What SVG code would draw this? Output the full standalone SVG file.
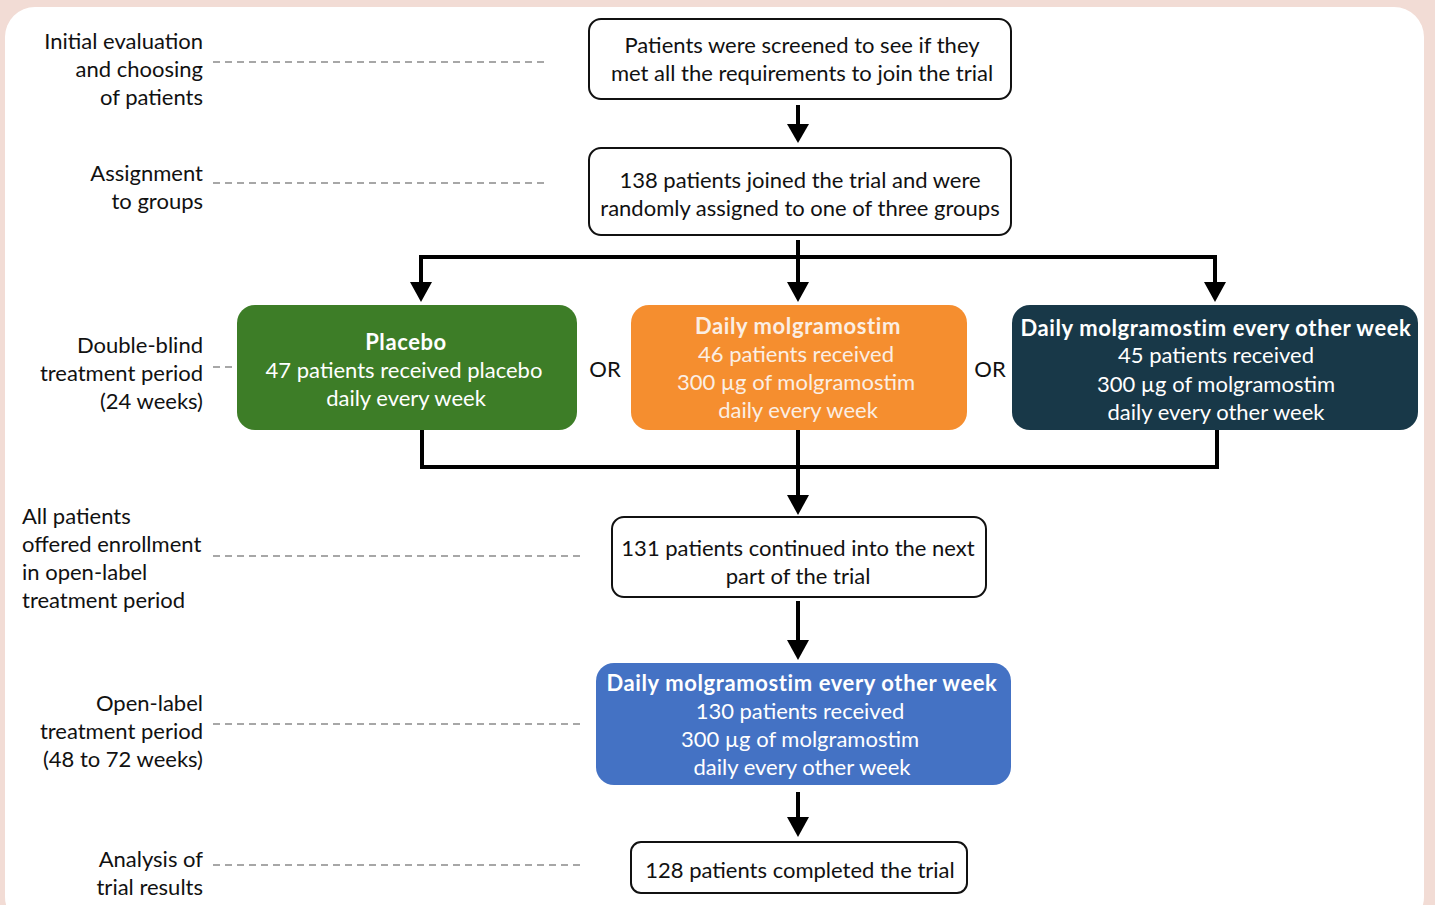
<svg xmlns="http://www.w3.org/2000/svg" width="1435" height="905" viewBox="0 0 1435 905">
<defs>
<style>
text{font-family:Lato,"Noto Sans",sans-serif;font-size:22px;fill:#111}
.c{text-anchor:middle}
.r{text-anchor:end}
.w{fill:#fff}
.o{fill:#fbeee4}
.b{font-weight:bold;letter-spacing:0.6px}
.box{fill:#fff;stroke:#111;stroke-width:2}
.dash{stroke:#8a8a8a;stroke-width:1.5;stroke-dasharray:7 5;fill:none}
.ln{stroke:#000;stroke-width:4;fill:none}
</style>
</defs>
<rect x="0" y="0" width="1435" height="905" fill="#f2dcd5"/>
<rect x="5" y="7" width="1419" height="920" rx="30" fill="#fff"/>

<g id="labels">
<text class="r" x="203" y="49">Initial evaluation</text>
<text class="r" x="203" y="77">and choosing</text>
<text class="r" x="203" y="105">of patients</text>
<text class="r" x="203" y="181">Assignment</text>
<text class="r" x="203" y="209">to groups</text>
<text class="r" x="203" y="353">Double-blind</text>
<text class="r" x="203" y="381">treatment period</text>
<text class="r" x="203" y="409">(24 weeks)</text>
<text x="22" y="524">All patients</text>
<text x="22" y="552">offered enrollment</text>
<text x="22" y="580">in open-label</text>
<text x="22" y="608">treatment period</text>
<text class="r" x="203" y="711">Open-label</text>
<text class="r" x="203" y="739">treatment period</text>
<text class="r" x="203" y="767">(48 to 72 weeks)</text>
<text class="r" x="203" y="867">Analysis of</text>
<text class="r" x="203" y="895">trial results</text>
<path class="dash" d="M213,62 H546 M213,183 H546 M213,367 H232 M213,556 H583 M213,724 H583 M213,865 H583"/>
<text x="605" y="377" class="c">OR</text>
<text x="990" y="377" class="c">OR</text>
</g>

<g id="connectors">
<path class="ln" d="M798,105 V128" />
<path d="M787,124 H809 L798,143 Z"/>
<path class="ln" d="M798,240 V257 M421,257 H1216 M421,255 V285 M798,257 V285 M1215,255 V285"/>
<path d="M410,282 H432 L421,302 Z M787,282 H809 L798,302 Z M1204,282 H1226 L1215,302 Z"/>
<path class="ln" d="M422,430 V467 M420,467 H1219 M1217,430 V467 M798,430 V498"/>
<path d="M787,495 H809 L798,515 Z"/>
<path class="ln" d="M798,601 V643"/>
<path d="M787,640 H809 L798,660 Z"/>
<path class="ln" d="M798,792 V820"/>
<path d="M787,817 H809 L798,837 Z"/>
</g>

<g id="screen">
<rect class="box" x="589" y="19" width="422" height="80" rx="12"/>
<text class="c" x="802" y="53">Patients were screened to see if they</text>
<text class="c" x="802" y="81">met all the requirements to join the trial</text>
</g>
<g id="assign">
<rect class="box" x="589" y="148" width="422" height="87" rx="12"/>
<text class="c" x="800" y="188">138 patients joined the trial and were</text>
<text class="c" x="800" y="216">randomly assigned to one of three groups</text>
</g>
<g id="placebo">
<rect x="237" y="305" width="340" height="125" rx="18" fill="#3d7d27"/>
<text class="c w b" x="406" y="350">Placebo</text>
<text class="c w" x="404" y="378">47 patients received placebo</text>
<text class="c w" x="406" y="406">daily every week</text>
</g>
<g id="daily">
<rect x="631" y="305" width="336" height="125" rx="18" fill="#f58e2f"/>
<text class="c o b" x="798" y="334">Daily molgramostim</text>
<text class="c o" x="796" y="362">46 patients received</text>
<text class="c o" x="796" y="390">300 µg of molgramostim</text>
<text class="c o" x="798" y="418">daily every week</text>
</g>
<g id="eow">
<rect x="1012" y="305" width="406" height="125" rx="18" fill="#183848"/>
<text class="c w b" x="1216" y="336">Daily molgramostim every other week</text>
<text class="c w" x="1216" y="363">45 patients received</text>
<text class="c w" x="1216" y="392">300 µg of molgramostim</text>
<text class="c w" x="1216" y="420">daily every other week</text>
</g>
<g id="continued">
<rect class="box" x="612" y="517" width="374" height="80" rx="12"/>
<text class="c" x="798" y="556">131 patients continued into the next</text>
<text class="c" x="798" y="584">part of the trial</text>
</g>
<g id="openlabel">
<rect x="596" y="663" width="415" height="122" rx="18" fill="#4472c4"/>
<text class="c w b" x="802" y="691">Daily molgramostim every other week</text>
<text class="c w" x="800" y="719">130 patients received</text>
<text class="c w" x="800" y="747">300 µg of molgramostim</text>
<text class="c w" x="802" y="775">daily every other week</text>
</g>
<g id="completed">
<rect class="box" x="631" y="842" width="336" height="51" rx="10"/>
<text class="c" x="800" y="878">128 patients completed the trial</text>
</g>
</svg>
